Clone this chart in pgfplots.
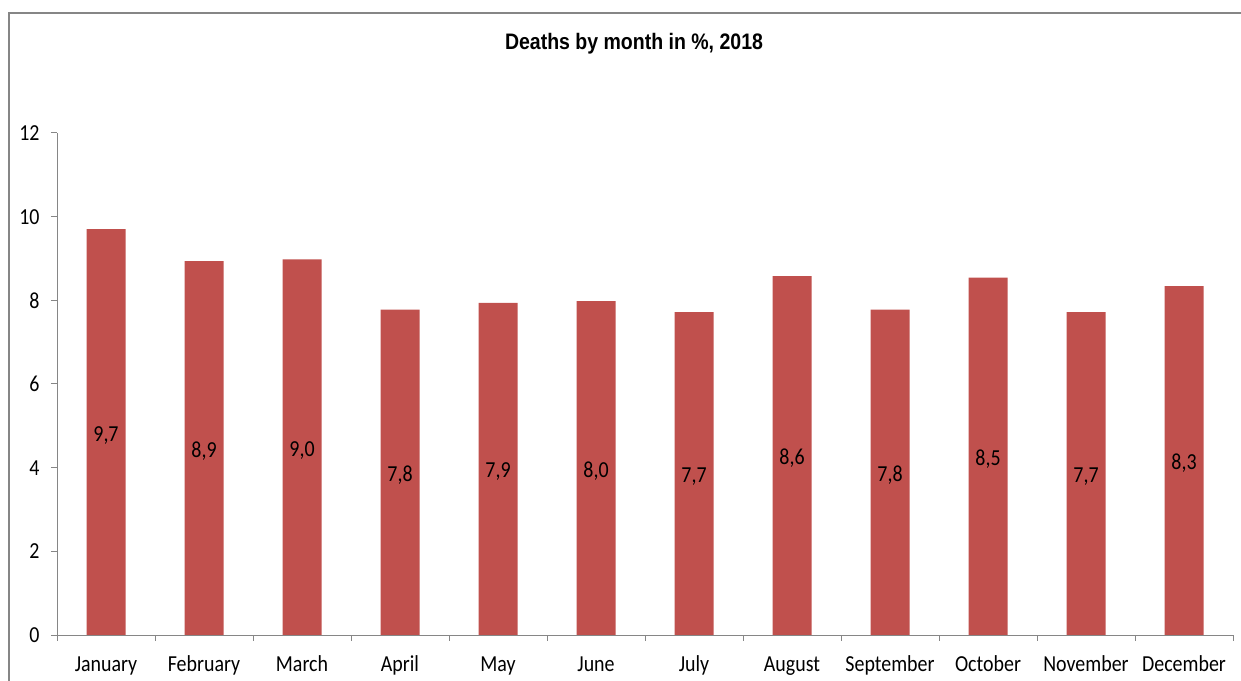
\documentclass[border=0pt]{standalone}
\usepackage{fontspec}
\setmainfont{Carlito}[FakeStretch=0.87]
\newfontfamily\titlefont{Liberation Sans}[FakeStretch=0.87]
\usepackage{pgfplots}
\pgfplotsset{compat=1.18}

\definecolor{barred}{HTML}{C0504D}
\definecolor{axgray}{HTML}{868686}

\begin{document}
\begin{tikzpicture}
  \useasboundingbox (0bp,0bp) rectangle (1241bp,681bp);
  % chart area frame (only top and left visible)
  \draw[axgray, line width=1.5bp] (9bp,-5bp) -- (9bp,668bp) -- (1250bp,668bp);
  \node[font=\titlefont\bfseries\fontsize{22.5}{26}\selectfont] at (634bp,637bp) {Deaths by month in \%, 2018};

  % origin = centre of the first category on the zero line
  \begin{axis}[
      at={(106bp,46bp)}, anchor=origin,
      scale only axis,
      width=1176bp, height=502bp,
      xmin=-0.5, xmax=11.5,
      ymin=0, ymax=12,
      ytick={0,2,...,12},
      xtick={0,...,11},
      xticklabels={January,February,March,April,May,June,July,August,September,October,November,December},
      minor xtick={-0.5,0.5,...,11.5},
      major x tick style={draw=none},
      axis x line*=bottom,
      axis y line*=left,
      axis line style={axgray, line width=1bp, -},
      tick style={axgray, line width=1bp},
      tick align=outside,
      major tick length=6bp,
      minor tick length=6bp,
      ticklabel style={font=\fontsize{23}{27}\selectfont, text=black},
      /pgf/number format/assume math mode=true,
      xticklabel style={text height=15bp, text depth=5bp, yshift=-12bp},
      yticklabel style={xshift=-8bp},
      ybar,
      bar width=39bp,
      visualization depends on=y \as \rawy,
      nodes near coords,
      nodes near coords style={
        font=\fontsize{23}{27}\selectfont,
        /pgf/number format/fixed,
        /pgf/number format/fixed zerofill,
        /pgf/number format/precision=1,
        /pgf/number format/use comma,
        /pgf/number format/assume math mode=true,
      },
      every node near coord/.append style={anchor=center, shift={(axis direction cs:0,-\rawy/2)}, yshift=-3bp},
    ]
    \addplot[fill=barred, draw=none] coordinates {
      (0,9.70) (1,8.94) (2,8.98) (3,7.78) (4,7.94) (5,7.98)
      (6,7.72) (7,8.58) (8,7.78) (9,8.54) (10,7.72) (11,8.34)
    };
  \end{axis}
\end{tikzpicture}
\end{document}
